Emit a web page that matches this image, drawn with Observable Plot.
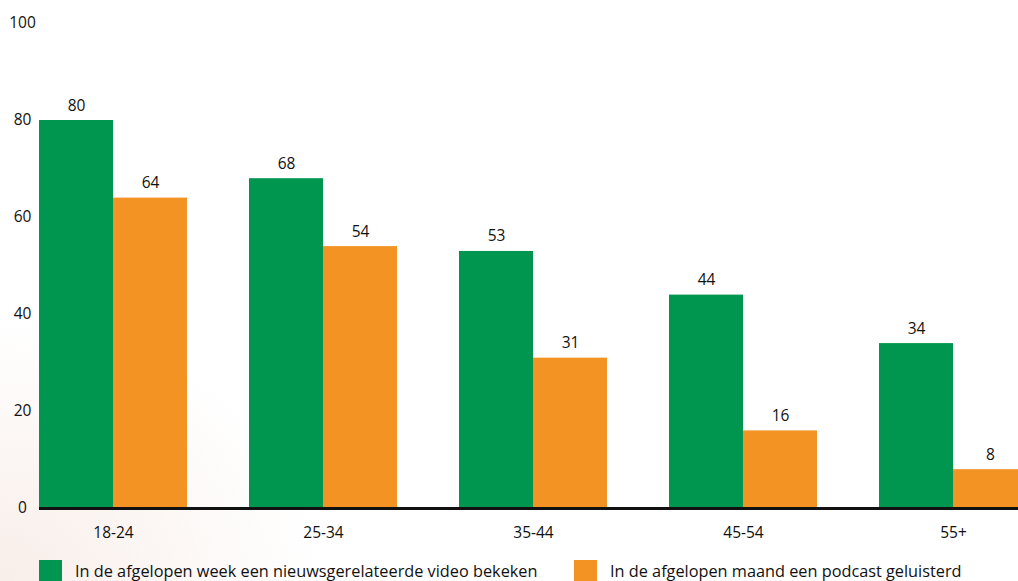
<!DOCTYPE html>
<html>
<head>
<meta charset="utf-8">
<script src="https://cdn.jsdelivr.net/npm/d3@7"></script>
<script src="https://cdn.jsdelivr.net/npm/@observablehq/plot@0.6"></script>
<style>
  html, body { margin: 0; padding: 0; }
  body {
    width: 1018px; height: 581px; overflow: hidden; position: relative;
    font-family: "Open Sans", "Noto Sans", sans-serif; color: #111;
    background: radial-gradient(ellipse 320px 260px at 0% 100%, rgba(246,232,226,0.75), rgba(255,255,255,0) 100%), #fff;
  }
  #chart svg { display: block; background: transparent; }
  .legend { position: absolute; top: 560px; left: 0; width: 1018px; height: 30px; font-size: 16.3px; }
  .legend .item { position: absolute; top: 0; display: flex; align-items: flex-start; }
  .legend .swatch { width: 23px; height: 23px; margin-right: 13px; }
  .legend .label { line-height: 22px; white-space: nowrap; }
</style>
</head>
<body>
<div id="chart"></div>
<div class="legend" id="legend"></div>
<script>
// Age groups and the share (%) per group for both kinds of news use
const ages = ["18-24", "25-34", "35-44", "45-54", "55+"];
const videoWeek = [80, 68, 53, 44, 34];
const podcastMonth = [64, 54, 31, 16, 8];
const yTicks = [0, 20, 40, 60, 80, 100];
const seriesNames = [
  "In de afgelopen week een nieuwsgerelateerde video bekeken",
  "In de afgelopen maand een podcast geluisterd"
];
const colors = ["#00964f", "#f29324"];

const rows = ages.map((age, i) => ({age, video: videoWeek[i], podcast: podcastMonth[i]}));

// each age band holds two bars side by side
const half = 74;
const fs = 15.5;

const chart = Plot.plot({
  width: 1018,
  height: 545,
  marginTop: 23,
  marginBottom: 37,
  marginLeft: 39,
  marginRight: 0,
  style: {fontFamily: "'Open Sans', 'Noto Sans', sans-serif", fontSize: fs + "px", color: "#111", background: "transparent"},
  x: {domain: ages, range: [39, 1027], paddingInner: 0.2952, paddingOuter: 0, round: false, label: null},
  y: {domain: [0, 100], label: null},
  marks: [
    Plot.barY(rows, {x: "age", y: "video", fill: colors[0], insetRight: half}),
    Plot.barY(rows, {x: "age", y: "podcast", fill: colors[1], insetLeft: half}),
    Plot.text(rows, {x: "age", y: "video", text: d => String(d.video), dx: -half / 2, dy: -10, lineAnchor: "bottom", fill: "#111", fontSize: fs}),
    Plot.text(rows, {x: "age", y: "podcast", text: d => String(d.podcast), dx: half / 2, dy: -10, lineAnchor: "bottom", fill: "#111", fontSize: fs}),
    Plot.ruleY([0], {stroke: "#111", strokeWidth: 3}),
    Plot.axisX({tickSize: 0, tickPadding: 18, label: null, fontSize: fs, fill: "#111"}),
    Plot.axisY({ticks: yTicks, tickSize: 0, tickPadding: 17, textAnchor: "middle", label: null, fontSize: fs, fill: "#111"})
  ]
});
document.getElementById("chart").append(chart);

// legend below the chart
const legend = document.getElementById("legend");
const legendLeft = [39, 574];
seriesNames.forEach((name, i) => {
  const item = document.createElement("div");
  item.className = "item";
  item.style.left = legendLeft[i] + "px";
  const sw = document.createElement("div");
  sw.className = "swatch";
  sw.style.background = colors[i];
  const lab = document.createElement("div");
  lab.className = "label";
  lab.textContent = name;
  item.append(sw, lab);
  legend.append(item);
});
</script>
</body>
</html>
